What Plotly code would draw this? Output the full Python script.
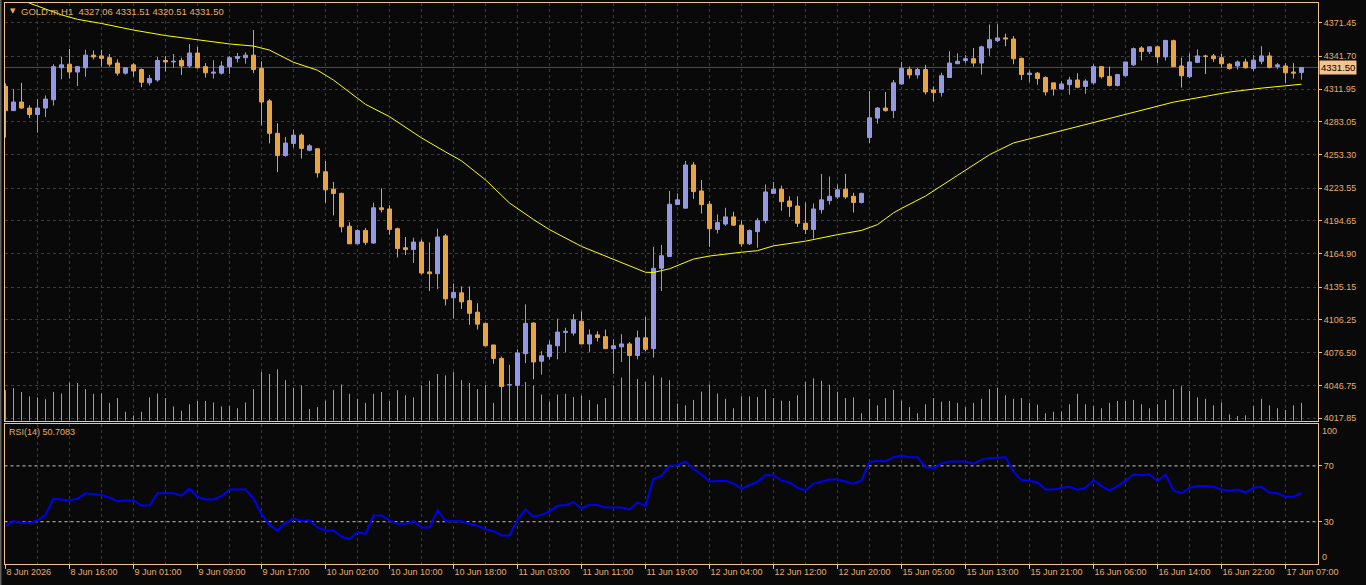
import plotly.graph_objects as go

# ---------------- data ----------------
symbol = "GOLD.m"
timeframe = "H1"
time_labels = ["8 Jun 2026", "8 Jun 16:00", "9 Jun 01:00", "9 Jun 09:00", "9 Jun 17:00",
               "10 Jun 02:00", "10 Jun 10:00", "10 Jun 18:00", "11 Jun 03:00", "11 Jun 11:00",
               "11 Jun 19:00", "12 Jun 04:00", "12 Jun 12:00", "12 Jun 20:00", "15 Jun 05:00",
               "15 Jun 13:00", "15 Jun 21:00", "16 Jun 06:00", "16 Jun 14:00", "16 Jun 22:00",
               "17 Jun 07:00"]
label_bars = [0, 8, 16, 24, 32, 40, 48, 56, 64, 72, 80, 88, 96, 104, 112, 120, 128, 136, 144, 152, 160]
price_ticks = [4371.45, 4341.70, 4311.95, 4283.05, 4253.30, 4223.55, 4194.65, 4164.90,
               4135.15, 4106.25, 4076.50, 4046.75, 4017.85]
rsi_period = 14
rsi_levels = [70, 30]
rsi_edge_labels = [100, 0]

open_ = [
    4314.5, 4292.9, 4300.6, 4295.2, 4289.4, 4295.2, 4302.6, 4331.2, 4334.4, 4327.4,
    4331.2, 4342.5, 4341.8, 4340.2, 4335.4, 4326.4, 4333.8, 4329.6, 4317.7, 4320.3,
    4337.7, 4336.4, 4337.7, 4332.8, 4344.4, 4332.2, 4326.4, 4326.4, 4332.2, 4339.6,
    4340.2, 4342.5, 4330.6, 4301.6, 4272.6, 4252.7, 4263.6, 4271.0, 4257.5, 4258.8,
    4238.2, 4222.7, 4218.9, 4189.6, 4173.8, 4185.7, 4174.5, 4206.0, 4205.0, 4187.3,
    4170.3, 4168.7, 4175.4, 4148.7, 4147.1, 4180.9, 4125.5, 4130.0, 4123.0, 4112.7,
    4102.7, 4083.4, 4071.4, 4047.6, 4047.3, 4075.6, 4103.0, 4068.9, 4073.0, 4082.7,
    4094.6, 4094.0, 4104.6, 4084.3, 4092.4, 4090.8, 4080.1, 4081.7, 4084.3, 4074.0,
    4089.8, 4080.1, 4151.9, 4162.5, 4208.9, 4205.7, 4244.3, 4221.1, 4209.2, 4186.7,
    4191.5, 4197.9, 4190.5, 4173.8, 4184.7, 4194.7, 4218.9, 4222.7, 4212.1, 4207.6,
    4192.2, 4186.7, 4204.4, 4212.4, 4215.7, 4222.7, 4216.3, 4210.8, 4268.8, 4286.2,
    4295.2, 4292.9, 4316.7, 4329.9, 4324.8, 4329.6, 4311.3, 4309.0, 4322.5, 4334.8,
    4337.7, 4339.3, 4335.4, 4348.9, 4355.4, 4357.9, 4356.9, 4339.6, 4325.1, 4326.4,
    4322.5, 4317.7, 4312.2, 4316.1, 4320.3, 4314.5, 4317.7, 4332.2, 4323.5, 4315.4,
    4324.1, 4333.8, 4348.9, 4345.7, 4349.9, 4340.9, 4355.4, 4332.8, 4323.2, 4336.0,
    4341.8, 4341.8, 4340.2, 4334.4, 4332.8, 4336.4, 4330.6, 4337.0, 4341.8, 4332.2,
    4332.8, 4327.4, 4327.06]
high = [
    4317.3, 4312.2, 4317.7, 4297.7, 4303.2, 4306.4, 4334.4, 4340.9, 4348.0, 4332.8,
    4347.3, 4346.7, 4347.3, 4343.5, 4338.6, 4331.2, 4335.4, 4330.6, 4324.8, 4340.9,
    4341.8, 4343.5, 4340.2, 4352.5, 4349.9, 4335.4, 4338.0, 4337.0, 4341.8, 4344.4,
    4345.1, 4365.0, 4337.0, 4303.2, 4281.6, 4269.4, 4275.9, 4272.6, 4263.0, 4258.8,
    4247.8, 4229.2, 4219.5, 4193.1, 4186.7, 4188.0, 4210.5, 4223.4, 4208.3, 4188.3,
    4179.9, 4179.3, 4177.7, 4175.1, 4187.3, 4182.5, 4138.4, 4135.8, 4135.8, 4120.7,
    4102.7, 4083.4, 4073.0, 4065.6, 4079.5, 4119.7, 4103.6, 4077.9, 4087.5, 4106.9,
    4098.8, 4111.0, 4113.3, 4097.2, 4095.6, 4097.2, 4088.5, 4093.0, 4085.9, 4096.2,
    4108.5, 4171.2, 4172.8, 4221.1, 4218.9, 4247.9, 4246.9, 4230.8, 4212.1, 4200.2,
    4206.0, 4202.5, 4194.7, 4186.7, 4197.0, 4226.9, 4229.2, 4225.9, 4216.3, 4216.3,
    4210.8, 4209.9, 4236.3, 4234.0, 4226.9, 4236.3, 4219.5, 4219.5, 4310.3, 4296.1,
    4309.6, 4320.3, 4336.4, 4332.2, 4331.2, 4333.8, 4314.5, 4326.7, 4346.0, 4344.1,
    4342.5, 4348.9, 4350.9, 4369.9, 4370.2, 4361.8, 4359.6, 4340.2, 4328.9, 4327.4,
    4323.5, 4317.7, 4319.3, 4323.2, 4326.4, 4320.9, 4334.4, 4332.8, 4332.2, 4325.7,
    4336.4, 4349.3, 4350.5, 4349.9, 4350.9, 4355.7, 4356.3, 4340.2, 4344.1, 4347.6,
    4342.8, 4343.5, 4343.5, 4335.4, 4337.7, 4339.3, 4342.5, 4350.5, 4345.1, 4335.4,
    4335.4, 4335.4, 4331.51]
low = [
    4268.8, 4292.8, 4294.6, 4286.2, 4273.3, 4287.1, 4297.4, 4320.9, 4321.6, 4314.9,
    4323.2, 4338.6, 4332.2, 4332.2, 4324.1, 4325.1, 4323.2, 4313.8, 4315.4, 4318.7,
    4328.0, 4331.2, 4324.8, 4331.2, 4330.6, 4322.5, 4321.6, 4325.1, 4325.7, 4336.0,
    4334.8, 4326.4, 4279.7, 4263.6, 4237.9, 4251.7, 4259.7, 4250.1, 4256.5, 4233.0,
    4210.5, 4199.2, 4184.1, 4173.8, 4173.5, 4172.8, 4173.8, 4201.8, 4181.9, 4161.6,
    4163.8, 4156.7, 4146.4, 4131.7, 4133.3, 4118.7, 4106.9, 4115.5, 4101.4, 4097.2,
    4082.1, 4066.6, 4036.0, 4047.0, 4046.7, 4067.2, 4052.8, 4056.9, 4070.5, 4070.5,
    4076.9, 4091.7, 4084.3, 4077.2, 4086.6, 4080.1, 4057.6, 4068.2, 4052.1, 4070.5,
    4077.9, 4072.1, 4131.6, 4162.5, 4208.9, 4205.7, 4214.0, 4200.9, 4171.2, 4183.1,
    4189.9, 4189.9, 4171.2, 4172.8, 4170.3, 4192.2, 4218.9, 4203.4, 4197.9, 4188.9,
    4182.5, 4178.6, 4200.9, 4208.9, 4214.0, 4214.0, 4201.8, 4209.9, 4263.9, 4281.3,
    4292.0, 4286.2, 4316.1, 4321.6, 4321.6, 4307.4, 4301.0, 4305.5, 4322.5, 4334.8,
    4335.4, 4332.2, 4325.1, 4341.8, 4354.1, 4350.5, 4334.4, 4320.3, 4318.3, 4316.1,
    4306.4, 4306.4, 4312.2, 4307.1, 4312.9, 4308.0, 4316.1, 4321.6, 4314.5, 4314.5,
    4323.2, 4332.8, 4337.7, 4343.5, 4335.4, 4337.7, 4332.2, 4313.5, 4321.9, 4335.4,
    4325.7, 4336.4, 4331.2, 4329.6, 4329.6, 4330.6, 4328.3, 4334.4, 4330.6, 4329.9,
    4317.7, 4321.6, 4320.51]
close = [
    4292.9, 4300.6, 4295.2, 4289.4, 4295.2, 4303.2, 4332.2, 4333.8, 4327.4, 4332.2,
    4342.5, 4340.9, 4339.6, 4334.4, 4326.4, 4331.2, 4328.3, 4318.3, 4321.6, 4337.7,
    4336.4, 4337.1, 4332.8, 4344.4, 4331.2, 4326.7, 4327.4, 4332.8, 4340.2, 4341.2,
    4342.5, 4329.6, 4300.6, 4272.6, 4252.7, 4263.9, 4271.0, 4259.1, 4261.4, 4237.2,
    4222.1, 4218.9, 4189.0, 4173.8, 4185.7, 4175.1, 4206.0, 4204.4, 4186.7, 4169.6,
    4168.7, 4175.4, 4147.7, 4147.1, 4179.9, 4124.6, 4130.4, 4122.0, 4111.7, 4102.0,
    4082.7, 4071.4, 4046.3, 4047.9, 4076.3, 4102.7, 4068.2, 4073.7, 4083.4, 4094.9,
    4095.6, 4105.9, 4084.3, 4092.4, 4090.1, 4080.1, 4082.7, 4084.3, 4074.0, 4089.8,
    4079.5, 4151.9, 4163.2, 4209.2, 4213.1, 4244.3, 4220.5, 4208.9, 4187.3, 4192.8,
    4197.9, 4190.5, 4173.8, 4185.7, 4194.7, 4220.2, 4222.7, 4211.5, 4207.3, 4192.2,
    4186.7, 4205.0, 4213.1, 4216.3, 4222.1, 4215.7, 4210.8, 4218.9, 4286.5, 4295.2,
    4292.9, 4317.7, 4330.6, 4324.8, 4329.6, 4309.6, 4309.0, 4324.1, 4335.4, 4337.0,
    4339.3, 4335.4, 4349.9, 4356.3, 4357.9, 4356.9, 4339.3, 4325.1, 4326.4, 4321.6,
    4309.6, 4312.2, 4316.7, 4320.3, 4313.8, 4319.3, 4332.2, 4323.2, 4315.4, 4325.1,
    4336.4, 4348.3, 4345.7, 4349.9, 4340.9, 4355.7, 4332.2, 4324.1, 4336.4, 4341.8,
    4341.2, 4339.3, 4334.8, 4330.6, 4336.4, 4331.2, 4338.0, 4341.8, 4331.5, 4333.8,
    4326.7, 4326.4, 4331.50]
volume = [
    5100, 5460, 4800, 4080, 3900, 3600, 4800, 4560, 6360, 6300,
    5280, 4500, 4560, 3000, 3780, 1500, 900, 1500, 3900, 4560,
    3780, 2400, 1680, 2760, 3300, 3300, 3060, 2400, 2460, 2100,
    3060, 5280, 8160, 7800, 8580, 6780, 5460, 5880, 1980, 2280,
    3360, 5160, 6060, 4500, 3660, 3000, 4500, 4800, 3300, 5100,
    4260, 3900, 5880, 6660, 7800, 7560, 8100, 6780, 6300, 5280,
    6000, 3000, 4680, 6600, 6480, 6480, 5880, 4380, 3180, 4380,
    4500, 3960, 4200, 3480, 2760, 3780, 5880, 7200, 7980, 6960,
    6480, 7560, 7200, 6780, 2880, 2580, 3480, 4860, 6060, 4560,
    3660, 2100, 4080, 4080, 3960, 5280, 3780, 3360, 3300, 4260,
    6480, 7080, 6660, 6000, 4860, 3780, 3900, 1260, 3660, 2580,
    3780, 5160, 3360, 2280, 1260, 2760, 3780, 3180, 3300, 3000,
    2280, 3000, 3660, 5280, 5460, 4260, 3660, 3780, 3000, 2700,
    1260, 1500, 1560, 2760, 4500, 2760, 2460, 2100, 3000, 3300,
    3300, 3480, 2760, 2100, 2760, 3480, 5280, 5760, 4980, 3900,
    3660, 2580, 3060, 1080, 780, 900, 2460, 3660, 2580, 2100,
    1800, 2580, 3000]
rsi = [
    27.2, 30.5, 29.2, 29.2, 31.0, 34.9, 46.5, 46.0, 45.2, 46.5,
    50.4, 49.6, 49.1, 47.3, 44.7, 45.2, 45.2, 41.6, 41.6, 50.4,
    50.4, 50.4, 48.6, 53.7, 47.8, 46.0, 46.0, 48.3, 53.0, 53.0,
    53.0, 46.5, 35.4, 27.7, 23.8, 29.2, 32.3, 30.5, 31.0, 25.9,
    23.8, 23.8, 19.4, 17.4, 22.5, 21.2, 34.4, 34.4, 31.0, 28.5,
    28.5, 30.5, 25.9, 25.9, 38.3, 30.5, 30.3, 30.3, 28.5, 27.2,
    24.6, 23.3, 20.2, 20.2, 31.5, 38.8, 33.6, 34.9, 37.5, 41.4,
    41.9, 43.9, 39.5, 42.1, 41.9, 40.1, 40.1, 40.1, 38.8, 43.9,
    41.4, 60.7, 62.8, 70.2, 70.5, 73.1, 67.7, 63.8, 58.9, 58.9,
    59.4, 57.3, 53.7, 56.3, 58.6, 63.3, 63.3, 59.4, 58.1, 54.3,
    52.4, 57.3, 58.9, 60.2, 60.2, 58.6, 57.3, 59.4, 72.8, 73.6,
    73.3, 76.2, 77.5, 76.2, 76.2, 69.0, 68.4, 71.8, 73.1, 73.1,
    73.1, 71.5, 74.4, 75.7, 76.2, 76.2, 65.9, 59.9, 59.4, 58.1,
    53.0, 53.0, 54.3, 55.0, 53.0, 54.3, 59.9, 55.5, 52.4, 55.5,
    59.4, 63.8, 63.3, 63.8, 59.4, 63.8, 52.4, 50.4, 54.3, 55.5,
    55.5, 55.0, 53.0, 52.2, 53.0, 50.9, 54.3, 55.0, 50.9, 50.4,
    47.8, 47.8, 50.7083]
ma_bars = [0, 3, 7, 9, 12, 16, 20, 24, 28, 31, 33, 36, 39, 41, 43, 45, 48, 50, 52, 55,
           57, 60, 63, 66, 68, 72, 76, 80, 81, 83, 86, 88, 92, 94, 96, 100, 104, 107, 109,
           111, 112, 115, 119, 123, 126, 130, 136, 142, 146, 153, 157, 162]
ma_vals = [4398.0, 4389.0, 4378.5, 4374.5, 4370.8, 4364.9, 4360.0, 4356.2, 4352.5, 4350.6,
           4347.0, 4336.1, 4329.0, 4320.2, 4309.0, 4298.5, 4287.5, 4278.0, 4268.5, 4256.0,
           4248.0, 4231.0, 4210.3, 4195.5, 4186.5, 4171.5, 4160.0, 4148.4, 4148.2, 4151.5,
           4160.2, 4162.9, 4166.3, 4167.7, 4172.0, 4176.2, 4182.0, 4185.8, 4191.0,
           4201.5, 4205.5, 4216.5, 4235.0, 4253.5, 4264.0, 4271.3, 4282.0, 4293.0, 4300.5,
           4309.5, 4313.0, 4316.5]

# ---------------- style ----------------
W, H = 1366, 585
BG = "#090909"
BULL = "#9498E0"
BEAR = "#E8A440"
TXT = "#E8AC68"
FRAME = "#F0C48C"
GRID = "#3C3C3C"
FONT = "Liberation Sans, Arial, sans-serif"

px_left, px_right = 4.5, 1318.0
main_top, main_bot = 3.0, 420.8
rsi_top, rsi_bot = 424.0, 563.6
xdom = [px_left / W, px_right / W]
main_dom = [1 - main_bot / H, 1 - main_top / H]
rsi_dom = [1 - rsi_bot / H, 1 - rsi_top / H]
bar_px = 8.0
first_bar_px = 5.5
xrange_ = [(px_left - first_bar_px) / bar_px, (px_right - first_bar_px) / bar_px]
yrange_main = [4015.6, 4389.1]
vol_range = [0, 69650]

n = len(close)
bars = list(range(n))
bull = [i for i in bars if close[i] >= open_[i]]
bear = [i for i in bars if close[i] < open_[i]]

fig = go.Figure()

# volumes as thin vertical lines from zero
vx, vy = [], []
for i in bars:
    vx += [i, i, None]
    vy += [0, volume[i], None]
fig.add_trace(go.Scatter(x=vx, y=vy, mode="lines", line=dict(color=BULL, width=1),
                         xaxis="x", yaxis="y3", hoverinfo="skip"))


def wick_xy(idx):
    xs, ys = [], []
    for i in idx:
        xs += [i, i, None]
        ys += [low[i], high[i], None]
    return xs, ys


for idx, col in ((bull, BULL), (bear, BEAR)):
    wx, wy = wick_xy(idx)
    fig.add_trace(go.Scatter(x=wx, y=wy, mode="lines", line=dict(color=col, width=1),
                             xaxis="x", yaxis="y", hoverinfo="skip"))
    fig.add_trace(go.Bar(
        x=idx,
        base=[min(open_[i], close[i]) for i in idx],
        y=[max(abs(close[i] - open_[i]), 0.3) for i in idx],
        width=0.5, marker=dict(color=col, line=dict(color=col, width=1)),
        xaxis="x", yaxis="y", hoverinfo="skip"))

# moving average
fig.add_trace(go.Scatter(x=ma_bars, y=ma_vals, mode="lines", line=dict(color="#FFFF00", width=1),
                         xaxis="x", yaxis="y", hoverinfo="skip"))

# RSI
fig.add_trace(go.Scatter(x=bars, y=rsi, mode="lines", line=dict(color="#0000F0", width=2),
                         xaxis="x2", yaxis="y2", hoverinfo="skip"))

grid_common = dict(showgrid=True, gridcolor=GRID, griddash="3px,3px", gridwidth=1)
minor_grid = dict(tickmode="linear", tick0=0, dtick=4, showgrid=True, gridcolor=GRID,
                  griddash="3px,3px", gridwidth=1, ticks="")

fig.update_layout(
    width=W, height=H, autosize=False,
    margin=dict(l=0, r=0, t=0, b=0, pad=0, autoexpand=False),
    paper_bgcolor=BG, plot_bgcolor=BG,
    showlegend=False, barmode="overlay", hovermode=False,
    font=dict(family=FONT, size=9, color=TXT),
    xaxis=dict(domain=xdom, range=xrange_, anchor="y", tickmode="array", tickvals=label_bars,
               showticklabels=False, ticks="", zeroline=False, showline=True, mirror=True,
               linecolor=FRAME, linewidth=1, minor=minor_grid, automargin=False, **grid_common),
    yaxis=dict(domain=main_dom, range=yrange_main, anchor="x", side="right",
               tickmode="array", tickvals=price_ticks, ticktext=[f"{v:.2f}" for v in price_ticks],
               ticks="outside", ticklen=3, tickcolor=FRAME, tickfont=dict(size=9, color=TXT),
               zeroline=False, showline=True, mirror=True, linecolor=FRAME, linewidth=1,
               automargin=False, **grid_common),
    yaxis3=dict(overlaying="y", range=vol_range, visible=False, anchor="x", automargin=False),
    xaxis2=dict(domain=xdom, range=xrange_, anchor="y2", tickmode="array", tickvals=label_bars,
                ticktext=time_labels, ticklabelposition="outside right", ticks="outside",
                ticklen=4, tickcolor=FRAME, tickfont=dict(size=9, color=TXT), zeroline=False,
                showline=True, mirror=True, linecolor=FRAME, linewidth=1, minor=minor_grid,
                automargin=False, **grid_common),
    yaxis2=dict(domain=rsi_dom, range=[0, 100], anchor="x2", side="right", tickmode="array",
                tickvals=rsi_levels, ticktext=[str(v) for v in rsi_levels], ticks="outside",
                ticklen=3, tickcolor=FRAME, tickfont=dict(size=9, color=TXT), showgrid=False,
                zeroline=False, showline=True, mirror=True, linecolor=FRAME, linewidth=1,
                automargin=False),
)

shapes = []
for lv in rsi_levels:
    shapes.append(dict(type="line", xref="x2 domain", x0=0, x1=1, yref="y2", y0=lv, y1=lv,
                       line=dict(color="#C8C8C8", width=1, dash="3px,3px"), layer="below"))
shapes.append(dict(type="line", xref="x domain", x0=0, x1=1, yref="y", y0=close[-1], y1=close[-1],
                   line=dict(color="#4E4E4E", width=1), layer="below"))
shapes.append(dict(type="line", xref="paper", x0=0.0006, x1=0.0006, yref="paper", y0=0, y1=1,
                   line=dict(color="#8A8A8A", width=1)))
fig.update_layout(shapes=shapes)

annotations = [
    dict(xref="paper", yref="paper", x=8 / W, y=1 - 10.5 / H, xanchor="left", yanchor="middle",
         text="▼", showarrow=False, font=dict(family="DejaVu Sans", size=7, color=TXT)),
    dict(xref="paper", yref="paper", x=19 / W, y=1 - 11 / H, xanchor="left", yanchor="middle",
         text=f"{symbol},{timeframe}  {open_[-1]:.2f} {high[-1]:.2f} {low[-1]:.2f} {close[-1]:.2f}",
         showarrow=False, font=dict(size=9.5, color=TXT)),
    dict(xref="paper", yref="paper", x=7 / W, y=1 - 432 / H, xanchor="left", yanchor="middle",
         text=f"RSI({rsi_period}) {rsi[-1]:.4f}", showarrow=False, font=dict(size=9, color=TXT)),
    dict(xref="x domain", yref="y", x=1, y=close[-1], xanchor="left", yanchor="middle", xshift=1,
         text=f"{close[-1]:.2f}", showarrow=False, bgcolor="#F5C48E", borderpad=1,
         font=dict(size=9.5, color="#000000")),
]
for v, anc in zip(rsi_edge_labels, ["top", "bottom"]):
    annotations.append(dict(xref="x2 domain", yref="y2", x=1, y=v, xanchor="left", yanchor=anc,
                            xshift=2, text=str(v), showarrow=False, font=dict(size=9, color=TXT)))
fig.update_layout(annotations=annotations)

fig.write_html("out.html")
